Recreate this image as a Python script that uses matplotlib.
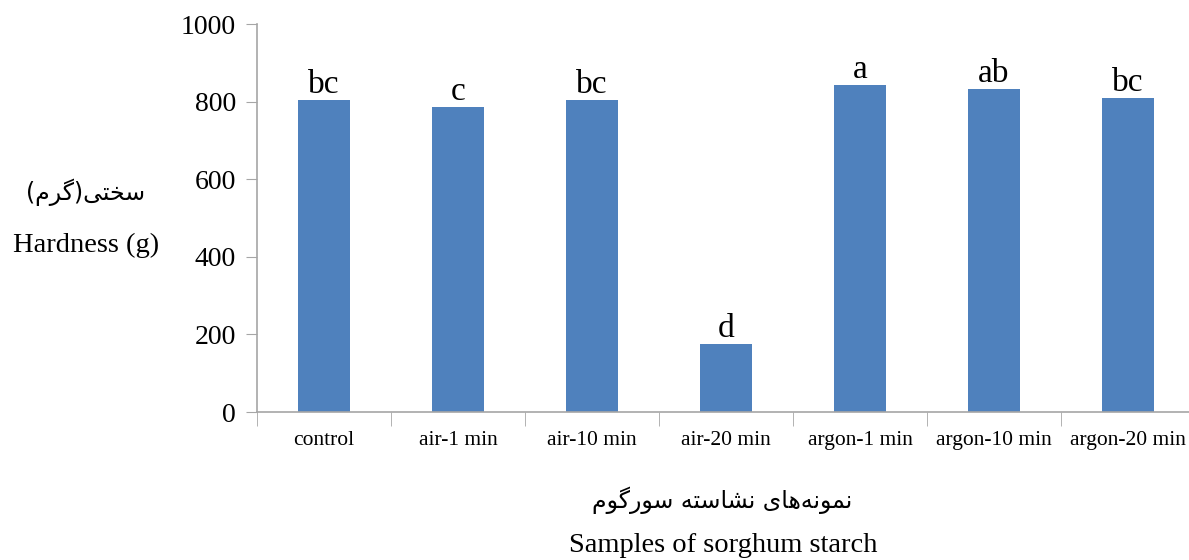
import matplotlib
matplotlib.use("Agg")
import matplotlib.pyplot as plt
from matplotlib.ticker import FixedLocator, NullFormatter

categories = ["control", "air-1 min", "air-10 min", "air-20 min",
              "argon-1 min", "argon-10 min", "argon-20 min"]
hardness = [804, 786, 804, 175, 843, 832, 809]
letters = ["bc", "c", "bc", "d", "a", "ab", "bc"]
yticks = [0, 200, 400, 600, 800, 1000]

# Persian labels (presentation forms, logical order; reversed for display)
ylabel_fa_logical = ["\uFEB3", "\uFEA8", "\uFE98", "\uFBFD", ")", "\uFB94", "\uFEAE", "\uFEE1", "("]
xlabel_fa_logical = ["\uFEE7", "\uFEE4", "\uFEEE", "\uFEE7", "\uFEEA",
                     "\uFEEB", "\uFE8E", "\uFBFC", " ",
                     "\uFEE7", "\uFEB8", "\uFE8E", "\uFEB3", "\uFE98", "\uFEEA", " ",
                     "\uFEB3", "\uFEEE", "\uFEAD", "\uFB94", "\uFEEE", "\uFEE1"]
ylabel_fa = "".join(reversed(ylabel_fa_logical))
xlabel_fa = "".join(reversed(xlabel_fa_logical))
ylabel_en = "Hardness (g)"
xlabel_en = "Samples of sorghum starch"

serif = ["Liberation Serif", "DejaVu Serif"]
fa_font = ["DejaVu Sans"]
bar_color = "#4F81BD"
spine_color = "#A6A6A6"

W, H = 1189, 560
fig = plt.figure(figsize=(W / 100, H / 100), dpi=100)
ax = fig.add_axes([257 / W, 1 - 412 / H, (1195 - 257) / W, (412 - 24) / H])

x = list(range(len(categories)))
ax.bar(x, hardness, width=0.39, color=bar_color, zorder=2)
ax.set_xlim(-0.5, len(categories) - 0.5)
ax.set_ylim(0, 1000)

for xi, v, lab in zip(x, hardness, letters):
    ax.annotate(lab, (xi, v), xytext=(0, 0), textcoords="offset points",
                ha="center", va="bottom", fontsize=24, family=serif)

ax.set_yticks(yticks)
ax.set_yticklabels([str(t) for t in yticks], fontsize=20, family=serif)
ax.tick_params(axis="y", length=8, color=spine_color, pad=7)

ax.set_xticks(x)
ax.set_xticklabels(categories, fontsize=15.5, family=serif)
ax.tick_params(axis="x", which="major", length=0, pad=14)
ax.xaxis.set_minor_locator(FixedLocator([i - 0.5 for i in range(len(categories) + 1)]))
ax.xaxis.set_minor_formatter(NullFormatter())
ax.tick_params(axis="x", which="minor", length=10, color=spine_color)

for s in ["top", "right"]:
    ax.spines[s].set_visible(False)
for s in ["left", "bottom"]:
    ax.spines[s].set_color(spine_color)
    ax.spines[s].set_linewidth(1.2)

fig.text(86 / W, 1 - 192 / H, ylabel_fa, ha="center", va="center", fontsize=17, family=fa_font)
fig.text(86 / W, 1 - 245 / H, ylabel_en, ha="center", va="center", fontsize=20.5, family=serif)
fig.text(722 / W, 1 - 500 / H, xlabel_fa, ha="center", va="center", fontsize=17, family=fa_font)
fig.text(723 / W, 1 - 545 / H, xlabel_en, ha="center", va="center", fontsize=20.5, family=serif)

fig.savefig("out.png", dpi=100)
